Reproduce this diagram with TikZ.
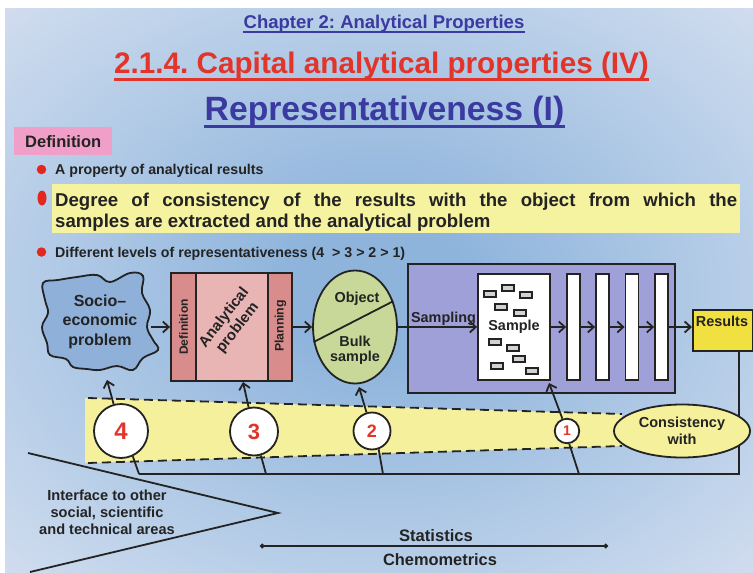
\documentclass[tikz,border=0pt]{standalone}
\usepackage{fontspec}
\setmainfont{Liberation Sans}
\usetikzlibrary{arrows.meta,shapes.geometric,calc}
\frenchspacing

\definecolor{ttlblue}{RGB}{58,58,160}
\definecolor{ttlred}{RGB}{226,52,40}
\definecolor{txt}{RGB}{35,35,35}
\definecolor{defpink}{RGB}{240,160,200}
\definecolor{hlyellow}{RGB}{245,242,160}
\definecolor{bulletred}{RGB}{226,40,30}
\definecolor{cloudblue}{RGB}{143,176,216}
\definecolor{stripdark}{RGB}{217,140,140}
\definecolor{striplight}{RGB}{232,180,180}
\definecolor{objgreen}{RGB}{200,216,152}
\definecolor{boxpurple}{RGB}{160,160,216}
\definecolor{resyellow}{RGB}{240,224,64}
\definecolor{bandyellow}{RGB}{245,240,155}
\definecolor{chipgray}{RGB}{210,210,210}
\definecolor{bgA}{RGB}{142,180,220}
\definecolor{bgB}{RGB}{198,215,236}
\definecolor{bgC}{RGB}{242,230,246}

\pgfdeclareradialshading{bgshade}{\pgfpoint{0bp}{0bp}}{color(0bp)=(bgA); color(6bp)=(bgA); color(31bp)=(bgB); color(47bp)=(bgC); color(75bp)=(bgC)}

\newcommand{\fsz}[2]{\bfseries\fontsize{#1}{#2}\selectfont}

\begin{document}
\begin{tikzpicture}[x=1pt,y=-1pt, text=txt,
  conn/.style={line width=1.8pt, draw=txt},
  arr/.style={conn, -{Straight Barb[length=6pt,width=11pt]}},
  bul/.style={circle, fill=bulletred, minimum size=9.5, inner sep=0},
  lbl/.style={inner sep=0, font=\fsz{14.4}{17}},
  stripbox/.style={draw=txt, line width=1.8pt, minimum height=108, inner sep=0},
  bar/.style={draw=txt, fill=white, line width=1.8pt, minimum width=13, minimum height=106, inner sep=0},
  chip/.style={draw=txt, fill=chipgray, line width=1.2pt, minimum width=12, minimum height=6, inner sep=0},
  numcirc/.style={circle, draw=txt, fill=white, line width=1.8pt, inner sep=0, text=ttlred},
  dashline/.style={conn, dash pattern=on 9pt off 5pt}
]
% background
\useasboundingbox (0,0) rectangle (753,573);
\fill[white] (0,0) rectangle (753,573);
\shade[shading=bgshade] (5,8) rectangle (753,573);

% titles
\node[anchor=base, text=ttlblue, inner sep=0, font=\fsz{18.5}{22}] (t1) at (384,28) {Chapter 2: Analytical Properties};
\coordinate (u1) at (0,31.5);
\draw[ttlblue, line width=2pt] (t1.west |- u1) -- (t1.east |- u1);
\node[anchor=base, text=ttlred, inner sep=0, font=\fsz{29.7}{34}] (t2) at (381.5,73) {2.1.4. Capital analytical properties (IV)};
\coordinate (u2) at (0,79.5);
\draw[ttlred, line width=3pt] (t2.west |- u2) -- (t2.east |- u2);
\node[anchor=base, text=ttlblue, inner sep=0, font=\fsz{33.7}{38}] (t3) at (384.5,120) {Representativeness (I)};
\coordinate (u3) at (0,126.5);
\draw[ttlblue, line width=3pt] (t3.west |- u3) -- (t3.east |- u3);

% definition
\node[fill=defpink, minimum width=98, minimum height=28, anchor=north west, inner sep=0, font=\fsz{16.5}{18}] (defbox) at (14,127) {Definition};

\node[bul] (b1) at (41.5,169.5) {};
\node[anchor=base west, inner sep=0, font=\fsz{14.2}{17}] (l1) at (55,174) {A property of analytical results};

\node[fill=hlyellow, anchor=north west, minimum width=688, minimum height=49, inner sep=0] (hl) at (52,184) {};
\node[ellipse, fill=bulletred, minimum width=9, minimum height=15, inner sep=0] (b2) at (42,198) {};
\node[anchor=base west, inner sep=0, font=\fsz{18.6}{21}] (l2a) at (55,206) {\makebox[682pt][s]{Degree of consistency of the results with the object from which the}};
\node[anchor=base west, inner sep=0, font=\fsz{18.6}{21}] (l2b) at (55,227.5) {samples are extracted and the analytical problem};

\node[bul] (b3) at (41.5,252) {};
\node[anchor=base west, inner sep=0, font=\fsz{14.2}{17}] (l3) at (55,257) {Different levels of representativeness (4\ \ > 3 > 2 > 1)};

% yellow band
\fill[bandyellow] (85,398) -- (622,414) -- (622,446) -- (85,463) -- cycle;
\coordinate (bd1) at (88,398);
\coordinate (bd2) at (622,414);
\coordinate (bd3) at (88,463);
\coordinate (bd4) at (622,446);
\draw[dashline] (bd1) -- (bd2);
\draw[dashline] (bd3) -- (bd4);

% cloud
\draw[conn, fill=cloudblue] plot[smooth cycle, tension=0.65] coordinates {
 (43,283) (58,280) (77,277) (97,275) (110,282) (130,273) (143,276) (142,293) (150,310)
 (147,327) (153,340) (158,350) (143,358) (133,370) (117,366) (100,370) (87,369) (73,367)
 (66,359) (50,355) (47,343) (42,327) (48,313) (45,300)};
\node[align=center, inner sep=0, font=\fsz{16}{19.5}] (cloud) at (100,321.5) {Socio–\\economic\\problem};
\coordinate (cloudE) at (151,327);

% analytical problem
\node[stripbox, fill=stripdark, minimum width=25] (defs) at (183.5,327) {};
\node[stripbox, fill=striplight, minimum width=72] (mid) at (232,327) {};
\node[stripbox, fill=stripdark, minimum width=24] (plan) at (280,327) {};
\node[rotate=90, inner sep=0, font=\fsz{12}{14}] (deft) at (183.5,327) {Definition};
\node[rotate=90, inner sep=0, font=\fsz{12.3}{14}] (plant) at (280.5,326) {Planning};
\node[rotate=52, align=center, inner sep=0, font=\fsz{15}{17}] (apt) at (231,323) {Analytical\\problem};
\draw[arr] (cloudE) -- (cloudE -| defs.west);

% object ellipse
\node[ellipse, draw=txt, fill=objgreen, line width=1.8pt, minimum width=84, minimum height=113, inner sep=0] (obj) at (355,327) {};
\draw[conn] (obj.200) -- (obj.34);
\node[lbl, anchor=base] (objt) at (357,302) {Object};
\node[lbl, anchor=base] (bulkt) at (355,346) {Bulk};
\node[lbl, anchor=base] (sampt) at (355,361.5) {sample};
\draw[arr] (plan.east) -- (obj.west);

% purple box
\node[draw=txt, fill=boxpurple, line width=1.8pt, minimum width=267, minimum height=129, anchor=north west, inner sep=0] (pbox) at (407,263) {};
\node[draw=txt, fill=white, line width=1.8pt, minimum width=72, minimum height=106, inner sep=0, font=\fsz{14.4}{17}] (samp) at (514,327) {Sample};
\node[lbl, anchor=base] (samplg) at (443.5,322) {Sampling};
\draw[arr] (obj.east) -- (samp.west);
\node[chip] (ch1) at (490,294) {};
\node[chip] (ch2) at (508,288) {};
\node[chip] (ch3) at (526,295) {};
\node[chip] (ch4) at (501,307) {};
\node[chip] (ch5) at (520,313) {};
\node[chip] (ch6) at (495,342) {};
\node[chip] (ch7) at (513,348) {};
\node[chip] (ch8) at (497,366) {};
\node[chip] (ch9) at (519,359) {};
\node[chip] (ch10) at (532,371) {};
\node[bar] (bar1) at (573.5,327) {};
\node[bar] (bar2) at (602.5,327) {};
\node[bar] (bar3) at (632,327) {};
\node[bar] (bar4) at (661.5,327) {};
\draw[arr] (samp.east) -- (bar1.west);
\draw[arr] (bar1.east) -- (bar2.west);
\draw[arr] (bar2.east) -- (bar3.west);
\draw[arr] (bar3.east) -- (bar4.west);

% results
\node[draw=txt, fill=resyellow, line width=1.8pt, minimum width=60, minimum height=41, anchor=north west, inner sep=0] (res) at (692,309) {};
\node[lbl, anchor=base] (rest) at (722,326.5) {Results};
\draw[arr] (bar4.east) -- (bar4.east -| res.west);

% feedback line
\coordinate (h4) at (139,474);
\coordinate (h3) at (266,474);
\coordinate (h2) at (383,474);
\coordinate (h1) at (579,474);
\coordinate (hr) at (739,474);
\draw[conn] (res.south -| hr) -- (hr) -- (h4);

% consistency ellipse
\node[ellipse, draw=txt, fill=bandyellow, line width=1.8pt, minimum width=136, minimum height=53, inner sep=0, align=center, font=\fsz{14.5}{17.4}] (cons) at (682,431) {Consistency\\with};

% circles
\node[numcirc, minimum size=54, font=\fsz{24}{28}] (c4) at (121,431) {4};
\node[numcirc, minimum size=48, font=\fsz{22}{26}] (c3) at (254,431.5) {3};
\node[numcirc, minimum size=37, font=\fsz{18}{21}] (c2) at (372,431) {2};
\node[numcirc, minimum size=24.5, font=\fsz{14}{16}] (c1) at (567,431) {1};
\draw[conn] (h4) -- (c4.-65);
\draw[conn] (h3) -- (c3.-74);
\draw[conn] (h2) -- (c2.-70);
\draw[conn] (h1) -- (c1.-80);
\coordinate (t4) at (107,380);
\coordinate (t3c) at (243,382);
\coordinate (t2c) at (359,387);
\coordinate (t1c) at (549,383);
\draw[arr] (c4) -- (t4);
\draw[arr] (c3) -- (t3c);
\draw[arr] (c2) -- (t2c);
\draw[arr] (c1) -- (t1c);

% interface triangle
\coordinate (tri1) at (28,453);
\coordinate (tri2) at (278,513);
\coordinate (tri3) at (30,572);
\draw[conn] (tri1) -- (tri2) -- (tri3);
\node[align=center, inner sep=0, font=\fsz{14.6}{17}] (iface) at (107,512) {Interface to other\\social, scientific\\and technical areas};

% statistics
\coordinate (s1) at (260,546);
\coordinate (s2) at (608,546);
\draw[line width=1.5pt, draw=txt, {Circle[length=4.5pt]}-{Circle[length=4.5pt]}] (s1) -- (s2);
\node[anchor=base, inner sep=0, font=\fsz{16.6}{19}] (stat) at (436,541) {Statistics};
\node[anchor=base, inner sep=0, font=\fsz{16.4}{19}] (chem) at (440,565) {Chemometrics};
\end{tikzpicture}
\end{document}
